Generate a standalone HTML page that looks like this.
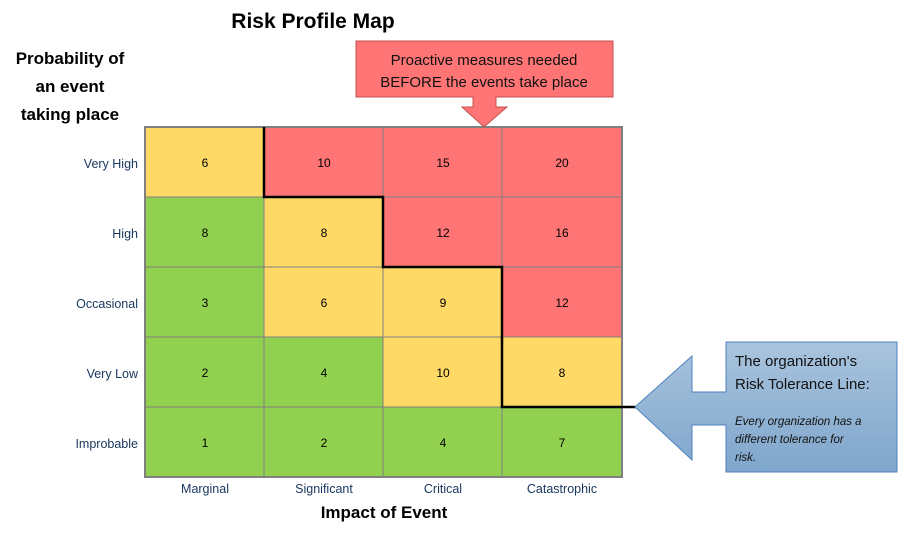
<!DOCTYPE html>
<html><head><meta charset="utf-8"><style>
html,body{margin:0;padding:0;background:#fff;}
svg{display:block;font-family:"Liberation Sans",sans-serif;}
</style></head><body>
<svg width="912" height="546" viewBox="0 0 912 546" xmlns="http://www.w3.org/2000/svg">
<defs>
<linearGradient id="bg" x1="0" y1="0" x2="0" y2="1"><stop offset="0" stop-color="#a9c4de"/><stop offset="1" stop-color="#7fa6cc"/></linearGradient>
</defs>
<text x="313" y="28" font-size="21" font-weight="bold" text-anchor="middle">Risk Profile Map</text>
<g font-size="17" font-weight="bold" text-anchor="middle">
<text x="70" y="64">Probability of</text>
<text x="70" y="92">an event</text>
<text x="70" y="120">taking place</text>
</g>
<g stroke="#808080" stroke-width="1">
<rect x="145" y="127" width="119" height="70" fill="#ffd966"/>
<rect x="264" y="127" width="119" height="70" fill="#ff7575"/>
<rect x="383" y="127" width="119" height="70" fill="#ff7575"/>
<rect x="502" y="127" width="120" height="70" fill="#ff7575"/>
<rect x="145" y="197" width="119" height="70" fill="#92d050"/>
<rect x="264" y="197" width="119" height="70" fill="#ffd966"/>
<rect x="383" y="197" width="119" height="70" fill="#ff7575"/>
<rect x="502" y="197" width="120" height="70" fill="#ff7575"/>
<rect x="145" y="267" width="119" height="70" fill="#92d050"/>
<rect x="264" y="267" width="119" height="70" fill="#ffd966"/>
<rect x="383" y="267" width="119" height="70" fill="#ffd966"/>
<rect x="502" y="267" width="120" height="70" fill="#ff7575"/>
<rect x="145" y="337" width="119" height="70" fill="#92d050"/>
<rect x="264" y="337" width="119" height="70" fill="#92d050"/>
<rect x="383" y="337" width="119" height="70" fill="#ffd966"/>
<rect x="502" y="337" width="120" height="70" fill="#ffd966"/>
<rect x="145" y="407" width="119" height="70" fill="#92d050"/>
<rect x="264" y="407" width="119" height="70" fill="#92d050"/>
<rect x="383" y="407" width="119" height="70" fill="#92d050"/>
<rect x="502" y="407" width="120" height="70" fill="#92d050"/>
</g>
<rect x="145" y="127" width="477" height="350" fill="none" stroke="#808080" stroke-width="2"/>
<g font-size="12" text-anchor="middle">
<text x="205" y="167">6</text><text x="324" y="167">10</text><text x="443" y="167">15</text><text x="562" y="167">20</text>
<text x="205" y="237">8</text><text x="324" y="237">8</text><text x="443" y="237">12</text><text x="562" y="237">16</text>
<text x="205" y="307">3</text><text x="324" y="307">6</text><text x="443" y="307">9</text><text x="562" y="307">12</text>
<text x="205" y="377">2</text><text x="324" y="377">4</text><text x="443" y="377">10</text><text x="562" y="377">8</text>
<text x="205" y="447">1</text><text x="324" y="447">2</text><text x="443" y="447">4</text><text x="562" y="447">7</text>
</g>
<g font-size="12.5" text-anchor="end" fill="#17365d">
<text x="138" y="168">Very High</text><text x="138" y="238">High</text><text x="138" y="308">Occasional</text><text x="138" y="378">Very Low</text><text x="138" y="448">Improbable</text>
</g>
<g font-size="12.5" text-anchor="middle" fill="#17365d">
<text x="205" y="493">Marginal</text><text x="324" y="493">Significant</text><text x="443" y="493">Critical</text><text x="562" y="493">Catastrophic</text>
</g>
<text x="384" y="518" font-size="17" font-weight="bold" text-anchor="middle">Impact of Event</text>
<polyline points="264,127 264,197 383,197 383,267 502,267 502,407 636,407" fill="none" stroke="#000" stroke-width="2.5"/>
<polygon points="356,41 613,41 613,97 496,97 496,107 507,107 484,127 462,107 473,107 473,97 356,97" fill="#ff7575" stroke="#c0504d" stroke-width="1"/>
<g font-size="15" text-anchor="middle" fill="#111"><text x="484" y="65">Proactive measures needed</text><text x="484" y="87">BEFORE the events take place</text></g>
<polygon points="726,342 897,342 897,472 726,472 726,425 692,425 692,460 635,407 692,356 692,392 726,392" fill="url(#bg)" stroke="#4f81bd" stroke-width="1"/>
<g fill="#111"><text x="735" y="366" font-size="15">The organization's</text><text x="735" y="389" font-size="15">Risk Tolerance Line:</text>
<g font-size="11.5" font-style="italic"><text x="735" y="425">Every organization has a</text><text x="735" y="443">different tolerance for</text><text x="735" y="461">risk.</text></g></g>
</svg>
</body></html>
